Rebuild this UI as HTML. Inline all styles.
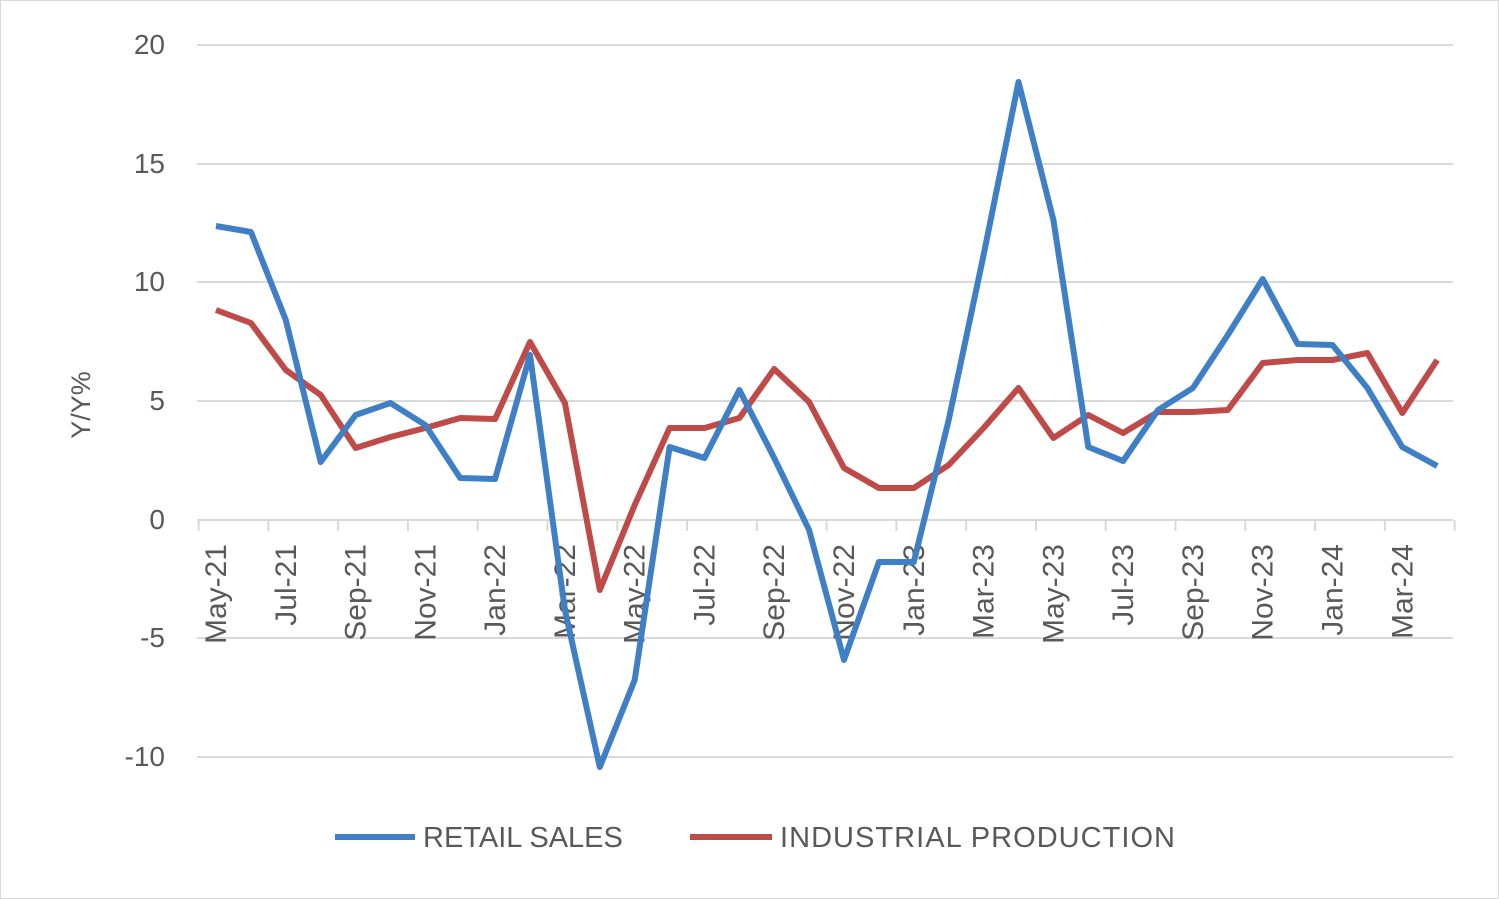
<!DOCTYPE html>
<html><head><meta charset="utf-8"><style>
html,body{margin:0;padding:0;background:#fff}
svg{display:block}
text{font-family:"Liberation Sans",sans-serif;fill:#595959}
</style></head><body>
<svg width="1499" height="899" viewBox="0 0 1499 899" xmlns="http://www.w3.org/2000/svg">
<rect x="0.5" y="0.5" width="1498" height="898" fill="#fff" stroke="#d9d9d9"/>
<g stroke="#d9d9d9" stroke-width="2">
<line x1="197" x2="1453" y1="45" y2="45"/>
<line x1="197" x2="1453" y1="164" y2="164"/>
<line x1="197" x2="1453" y1="282" y2="282"/>
<line x1="197" x2="1453" y1="401" y2="401"/>
<line x1="197" x2="1453" y1="638" y2="638"/>
<line x1="197" x2="1453" y1="757" y2="757"/>
<line x1="197" x2="1453" y1="520" y2="520"/>
<g id="ticks"></g>
</g>
<g font-size="28" text-anchor="end">
<text x="165" y="54">20</text>
<text x="165" y="173">15</text>
<text x="165" y="291">10</text>
<text x="165" y="410">5</text>
<text x="165" y="529">0</text>
<text x="165" y="647">-5</text>
<text x="165" y="766">-10</text>
</g>
<text font-size="27" text-anchor="middle" transform="translate(90,405) rotate(-90)">Y/Y%</text>
<g id="xl" font-size="30" text-anchor="end"></g>
<polyline id="ip" fill="none" stroke="#be4b48" stroke-width="6" stroke-linejoin="round"/>
<polyline id="rs" fill="none" stroke="#3f7fc6" stroke-width="6" stroke-linejoin="round"/>
<line x1="335" x2="415" y1="837" y2="837" stroke="#3f7fc6" stroke-width="6"/>
<text x="423" y="847" font-size="29">RETAIL SALES</text>
<line x1="690" x2="772" y1="837" y2="837" stroke="#be4b48" stroke-width="6"/>
<text x="780" y="847" font-size="29" textLength="395">INDUSTRIAL PRODUCTION</text>
</svg>
<script>
var rs=[226,232,320,462,415,403,425,478,479,355,610,767,680,447,458,390,458,530,660,562,562,420,255,82,220,447,461,410,388,335,279,344,345,388,447,466];
var ip=[310,323,370,395,448,437,428,418,419,342,403,590,505,428,428,418,369,402,468,488,488,465,428,388,438,415,433,412,412,410,363,360,360,353,413,360];
function X(i){return 216+i*34.89;}
var ns="http://www.w3.org/2000/svg";
document.getElementById('rs').setAttribute('points',rs.map(function(y,i){return X(i).toFixed(1)+','+y}).join(' '));
document.getElementById('ip').setAttribute('points',ip.map(function(y,i){return X(i).toFixed(1)+','+y}).join(' '));
var t=document.getElementById('ticks');
for(var i=0;i<=36;i+=2){var l=document.createElementNS(ns,'line');var x=X(i)-17.4;l.setAttribute('x1',x);l.setAttribute('x2',x);l.setAttribute('y1',520);l.setAttribute('y2',531);t.appendChild(l);}
var xl=document.getElementById('xl');
var names=["Jan","Feb","Mar","Apr","May","Jun","Jul","Aug","Sep","Oct","Nov","Dec"];
for(var i=0;i<36;i+=2){var m=(4+i)%12;var y=21+Math.floor((4+i)/12);
var tx=document.createElementNS(ns,'text');tx.setAttribute('transform','translate('+(X(i)+10).toFixed(1)+',544) rotate(-90)');tx.textContent=names[m]+'-'+y;xl.appendChild(tx);}
</script>
</body></html>
